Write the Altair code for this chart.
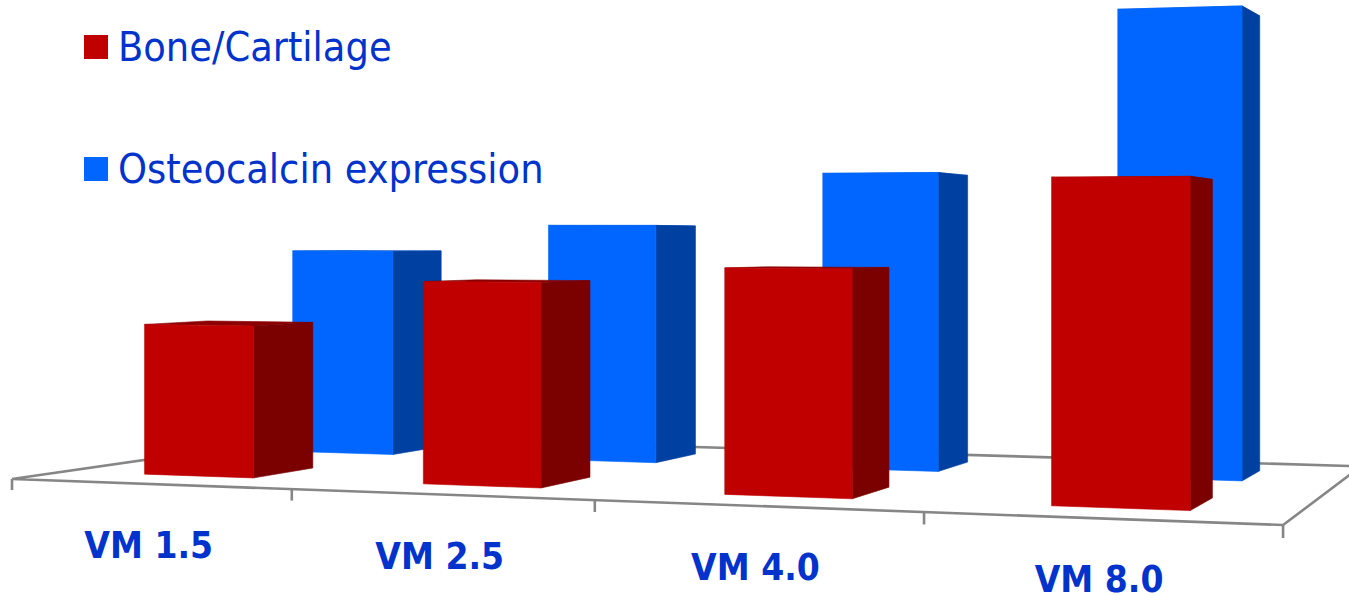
import altair as alt
import numpy as np
import pandas as pd

# Chart values
categories = ["VM 1.5", "VM 2.5", "VM 4.0", "VM 8.0"]
series_names = ["Bone/Cartilage", "Osteocalcin expression"]
bone_cartilage = [1.53, 1.99, 2.14, 2.98]
osteocalcin = [2.27, 2.56, 3.11, 4.76]

# Canvas and styling
WIDTH, HEIGHT = 1349, 596
FRONT = {"bone": "#C00000", "osteo": "#0066FF"}
SIDE = {"bone": "#7B0000", "osteo": "#0040A0"}
TOP = {"bone": "#8B0000", "osteo": "#0050C8"}
TEXT_BLUE = "#0033CC"
FLOOR_GREY = "#868686"
FONT = "DejaVu Sans Condensed"

# Perspective of the chart floor: (s, t) in the unit square plus a height z
A, B, C = 1074.5, 367.5, 12.0
D, E, F = -34.4, 53.5, 479.0
G, H = -0.1532, 0.2214
Z_UNIT = 100.0          # drawn height of one value unit
SLOT_U = (0.30, 0.70)   # bar span inside a category cell
BONE_T = (0.15, 0.35)   # bar depth range, front row
OSTEO_T = (0.65, 0.85)  # bar depth range, back row


def project(u, t, z=0.0):
    s = u / len(categories)
    w = G * s + H * t + 1
    return (A * s + B * t + C) / w, (D * s + E * t + F - z) / w


def face(rows, name, colour, upper, lower):
    """Append a filled polygon given its upper and lower outline chains."""
    xs = sorted({p[0] for p in upper} | {p[0] for p in lower})
    ux, uy = zip(*sorted(upper))
    lx, ly = zip(*sorted(lower))
    for x in xs:
        rows.append({"x": x, "y": float(np.interp(x, ux, uy)),
                     "y2": float(np.interp(x, lx, ly)),
                     "face": name, "shade": colour})


def add_bar(rows, key, idx, value, depth):
    u0, u1 = idx + SLOT_U[0], idx + SLOT_U[1]
    t0, t1 = depth
    z = value * Z_UNIT
    fl, fr = project(u0, t0, z), project(u1, t0, z)
    bl, br = project(u0, t1, z), project(u1, t1, z)
    fl0, fr0 = project(u0, t0), project(u1, t0)
    br0 = project(u1, t1)
    name = f"{key}-{idx}"
    face(rows, name + "-top", TOP[key], [fl, bl, br], [fl, fr, br])
    face(rows, name + "-side", SIDE[key], [fr, br], [fr0, br0])
    face(rows, name + "-front", FRONT[key], [fl, fr], [fl0, fr0])


rows = []
for i, v in enumerate(osteocalcin):
    add_bar(rows, "osteo", i, v, OSTEO_T)
for i, v in enumerate(bone_cartilage):
    add_bar(rows, "bone", i, v, BONE_T)
bars_df = pd.DataFrame(rows)

# Floor outline and category ticks
n = len(categories)
floor_rows = []
outline = [project(0, 1), project(0, 0), project(n, 0), project(n, 1), project(0, 1)]
for order, (x, y) in enumerate(outline):
    floor_rows.append({"x": x, "y": y, "path": "outline", "order": order})
for i in range(n + 1):
    for order, z in enumerate((0, -11)):
        x, y = project(i, 0, z)
        floor_rows.append({"x": x, "y": y, "path": f"tick-{i}", "order": order})
floor_df = pd.DataFrame(floor_rows)

# Category labels sit a fixed distance under the front edge of the floor
label_df = pd.DataFrame(
    [{"x": project(i + 0.5, 0)[0] - 0.5, "y": project(i + 0.5, 0)[1] + 74, "label": c}
     for i, c in enumerate(categories)]
)

legend_df = pd.DataFrame({
    "x": [96, 96], "y": [47, 169], "tx": [118, 118], "ty": [61, 183],
    "label": series_names, "shade": [FRONT["bone"], FRONT["osteo"]],
})

x_enc = alt.X("x:Q", scale=alt.Scale(domain=[0, WIDTH], nice=False, zero=False), axis=None)
y_enc = alt.Y("y:Q", scale=alt.Scale(domain=[HEIGHT, 0], nice=False, zero=False), axis=None)

floor = alt.Chart(floor_df).mark_line(color=FLOOR_GREY, strokeWidth=2.6, clip=True).encode(
    x=x_enc, y=y_enc, detail="path:N", order="order:Q"
)
bars = alt.Chart(bars_df).mark_area(orient="vertical", interpolate="linear", strokeWidth=0.6).encode(
    x=x_enc, y=y_enc, y2="y2:Q",
    detail="face:N",
    color=alt.Color("shade:N", scale=None),
    stroke=alt.Stroke("shade:N", scale=None),
)
labels = alt.Chart(label_df).mark_text(
    font=FONT, fontWeight="bold", fontSize=36.8, color=TEXT_BLUE,
    align="center", baseline="alphabetic",
).encode(x=x_enc, y=y_enc, text="label:N")
legend_swatches = alt.Chart(legend_df).mark_square(size=576, opacity=1).encode(
    x=x_enc, y=y_enc, color=alt.Color("shade:N", scale=None)
)
legend_text = alt.Chart(legend_df).mark_text(
    font=FONT, fontSize=41, color=TEXT_BLUE, align="left", baseline="alphabetic",
).encode(
    x=alt.X("tx:Q", scale=alt.Scale(domain=[0, WIDTH], nice=False, zero=False), axis=None),
    y=alt.Y("ty:Q", scale=alt.Scale(domain=[HEIGHT, 0], nice=False, zero=False), axis=None),
    text="label:N",
)

chart = (
    alt.layer(floor, bars, labels, legend_swatches, legend_text)
    .properties(width=WIDTH, height=HEIGHT, padding=0, background="white")
    .configure_view(stroke=None)
)

chart.save("out.html", embed_options={"renderer": "svg", "actions": False})
